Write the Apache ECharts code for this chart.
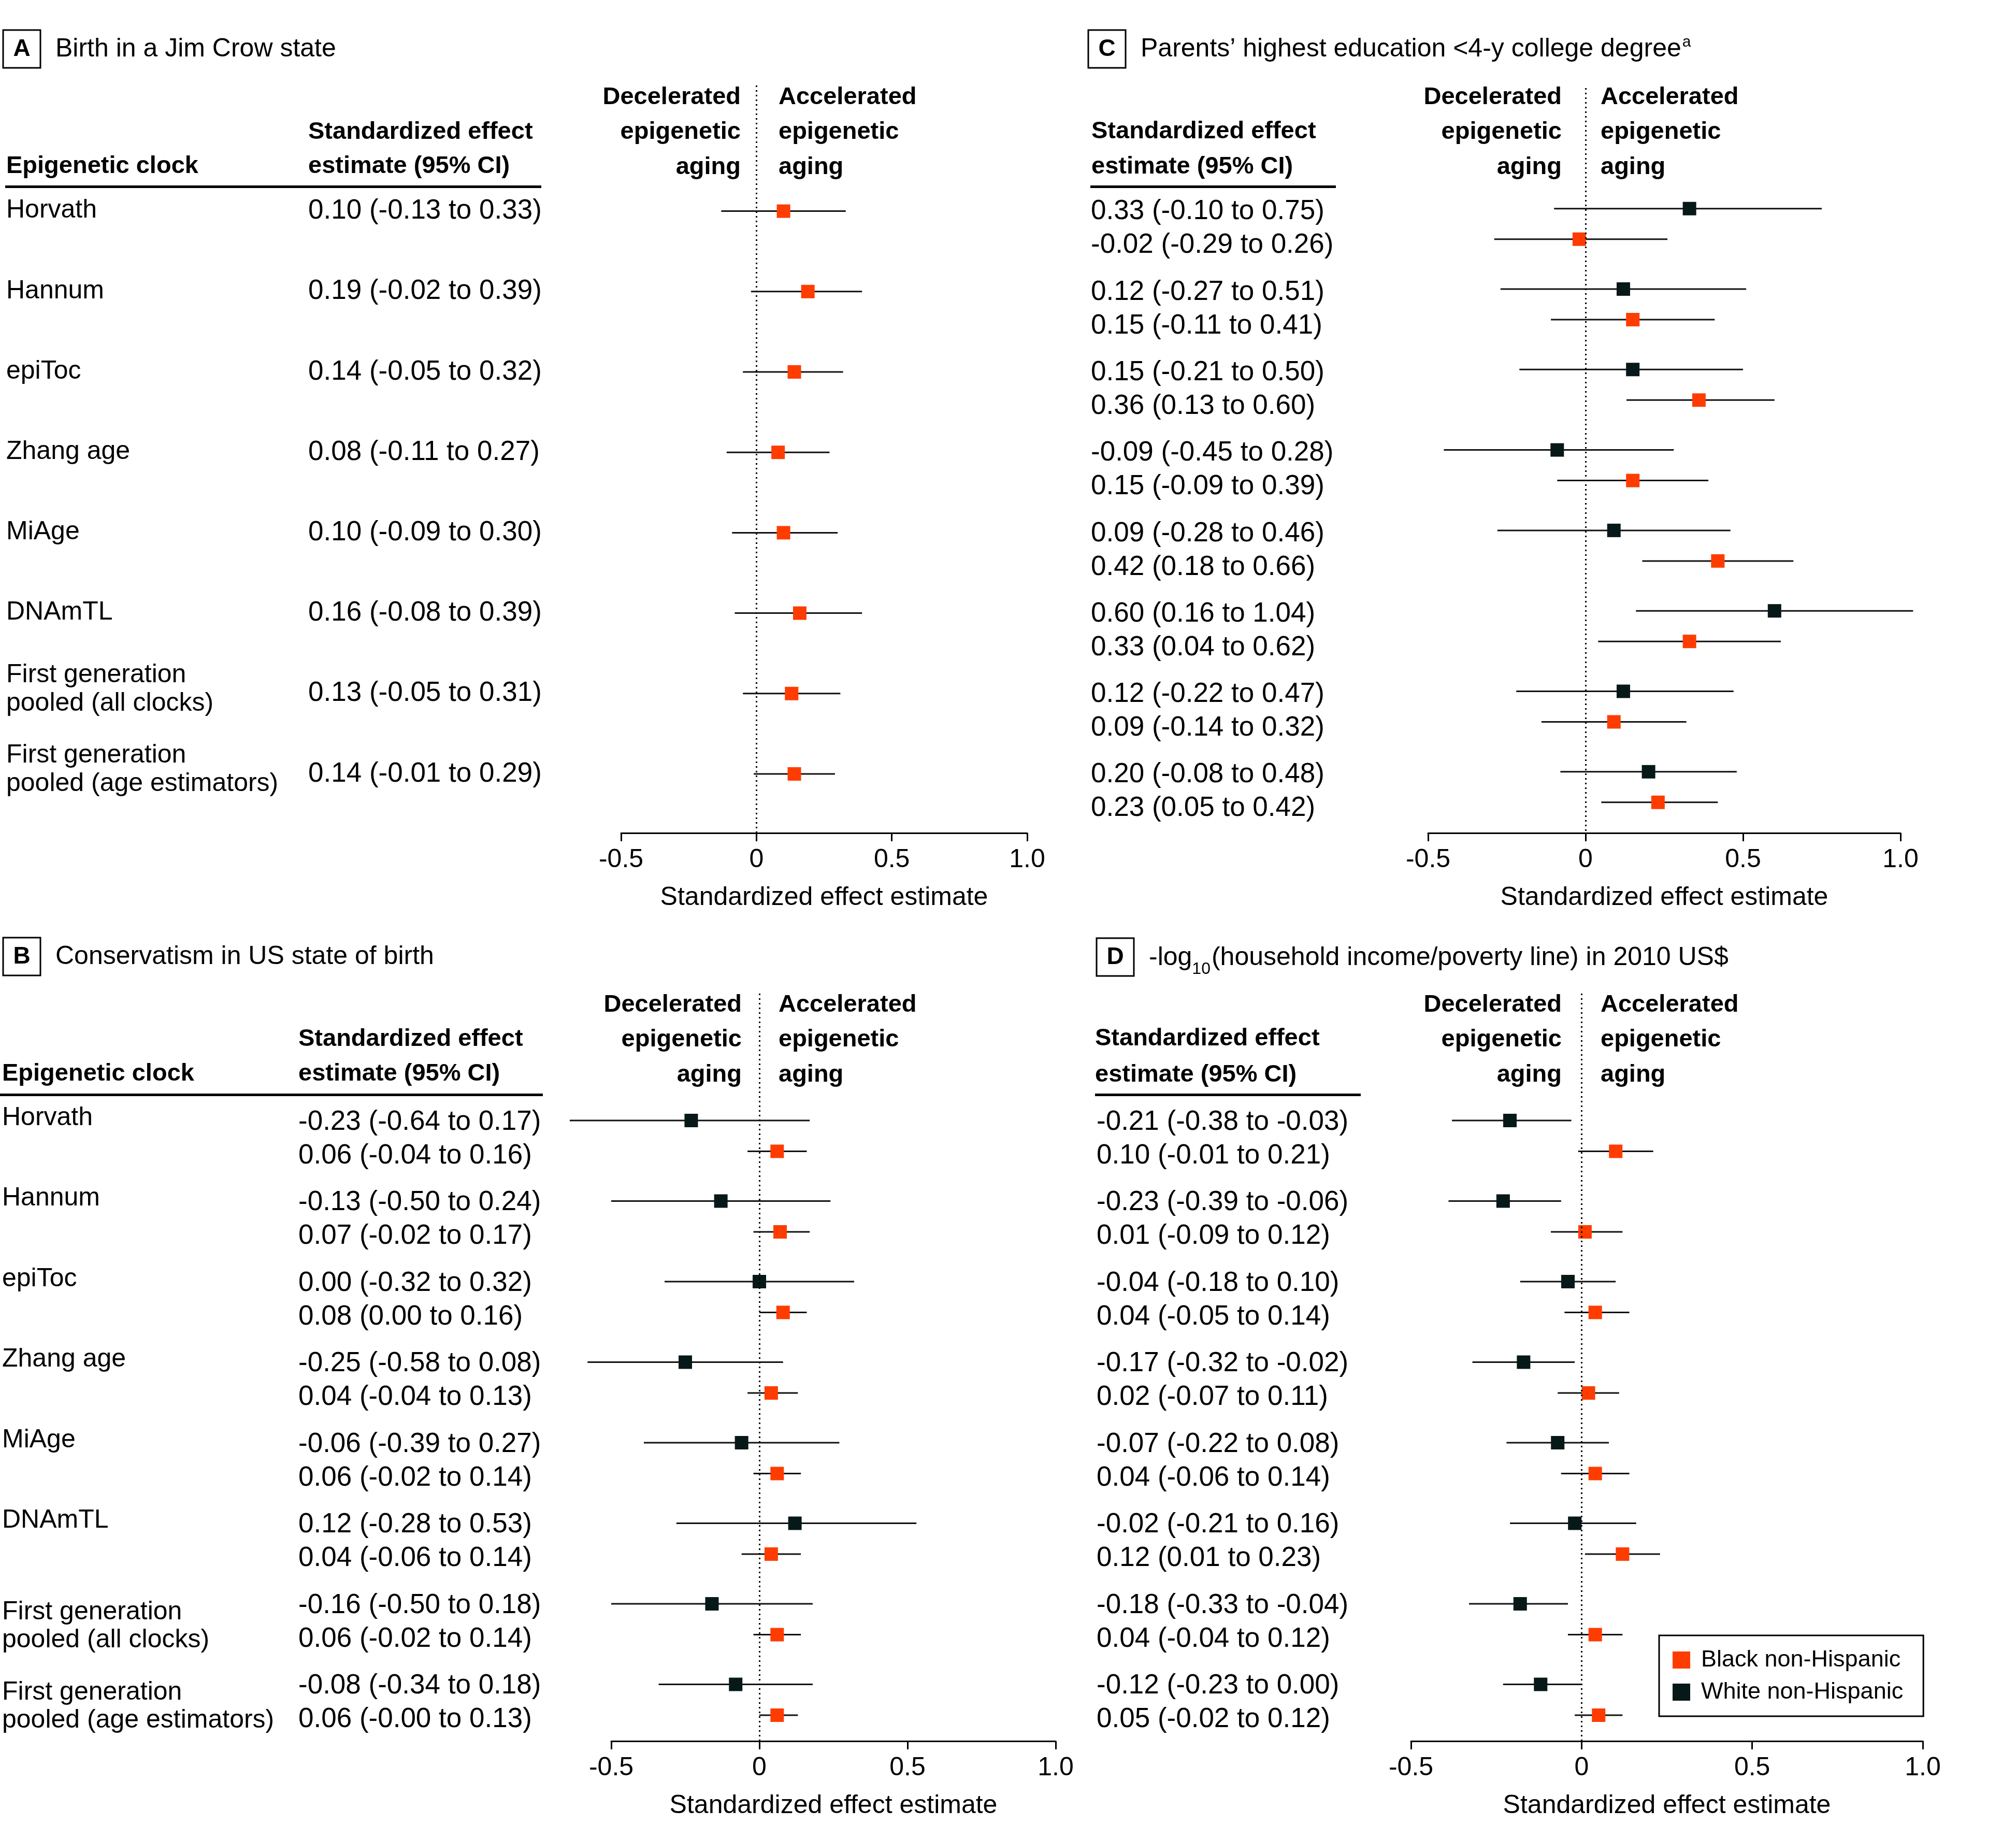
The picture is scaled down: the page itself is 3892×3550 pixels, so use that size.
<!DOCTYPE html>
<html><head><meta charset="utf-8">
<script src="https://cdn.jsdelivr.net/npm/echarts/dist/echarts.min.js"></script>
<style>html,body{margin:0;padding:0;background:#fff}#c{width:3892px;height:3550px}</style>
</head><body><div id="c"></div>
<script>
// ---------------- DATA ----------------
const clocks = ['Horvath','Hannum','epiToc','Zhang age','MiAge','DNAmTL','First generation\npooled (all clocks)','First generation\npooled (age estimators)'];
const tickValues = [-0.5, 0, 0.5, 1.0];
const tickLabels = ['-0.5', '0', '0.5', '1.0'];
const seriesNames = ['Black non-Hispanic', 'White non-Hispanic'];
const panelTitles = ['Birth in a Jim Crow state', 'Parents\u2019 highest education <4-y college degree', 'Conservatism in US state of birth', '(household income/poverty line) in 2010 US$'];

// Panel A: Birth in a Jim Crow state (Black non-Hispanic only)
const aBlackEst = [0.10, 0.19, 0.14, 0.08, 0.10, 0.16, 0.13, 0.14];
const aBlackLo  = [-0.13, -0.02, -0.05, -0.11, -0.09, -0.08, -0.05, -0.01];
const aBlackHi  = [0.33, 0.39, 0.32, 0.27, 0.30, 0.39, 0.31, 0.29];
// Panel C: Parents' education
const cWhiteEst = [0.33, 0.12, 0.15, -0.09, 0.09, 0.60, 0.12, 0.20];
const cWhiteLo  = [-0.10, -0.27, -0.21, -0.45, -0.28, 0.16, -0.22, -0.08];
const cWhiteHi  = [0.75, 0.51, 0.50, 0.28, 0.46, 1.04, 0.47, 0.48];
const cBlackEst = [-0.02, 0.15, 0.36, 0.15, 0.42, 0.33, 0.09, 0.23];
const cBlackLo  = [-0.29, -0.11, 0.13, -0.09, 0.18, 0.04, -0.14, 0.05];
const cBlackHi  = [0.26, 0.41, 0.60, 0.39, 0.66, 0.62, 0.32, 0.42];
// Panel B: Conservatism
const bWhiteEst = [-0.23, -0.13, 0.00, -0.25, -0.06, 0.12, -0.16, -0.08];
const bWhiteLo  = [-0.64, -0.50, -0.32, -0.58, -0.39, -0.28, -0.50, -0.34];
const bWhiteHi  = [0.17, 0.24, 0.32, 0.08, 0.27, 0.53, 0.18, 0.18];
const bBlackEst = [0.06, 0.07, 0.08, 0.04, 0.06, 0.04, 0.06, 0.06];
const bBlackLo  = [-0.04, -0.02, 0.00, -0.04, -0.02, -0.06, -0.02, -0.00];
const bBlackHi  = [0.16, 0.17, 0.16, 0.13, 0.14, 0.14, 0.14, 0.13];
// Panel D: income
const dWhiteEst = [-0.21, -0.23, -0.04, -0.17, -0.07, -0.02, -0.18, -0.12];
const dWhiteLo  = [-0.38, -0.39, -0.18, -0.32, -0.22, -0.21, -0.33, -0.23];
const dWhiteHi  = [-0.03, -0.06, 0.10, -0.02, 0.08, 0.16, -0.04, 0.00];
const dBlackEst = [0.10, 0.01, 0.04, 0.02, 0.04, 0.12, 0.04, 0.05];
const dBlackLo  = [-0.01, -0.09, -0.05, -0.07, -0.06, 0.01, -0.04, -0.02];
const dBlackHi  = [0.21, 0.12, 0.14, 0.11, 0.14, 0.23, 0.12, 0.12];

// ---------------- STYLE / LAYOUT ----------------
const FONT = '"Liberation Sans", Arial, Helvetica, sans-serif';
const FS = 50, FSV = 53, FSB = 47;
const ORANGE = '#FF3C00', DARK = '#071818', INK = '#000';

// grids: 0=A, 1=C, 2=B, 3=D
const G = [
  {left:1199, right:1983, top:165,  bottom:1608, y0:407.6, step:155.2, off:59},
  {left:2757, right:3669, top:170,  bottom:1608, y0:402.7, step:155.3, off:59},
  {left:1180, right:2038, top:1918, bottom:3361, y0:2163,  step:155.5, off:59.5},
  {left:2724, right:3712, top:1918, bottom:3361, y0:2163,  step:155.5, off:59.5}
];

function fmt(v){ if (Object.is(v, -0)) return '-0.00'; return v.toFixed(2); }
function ciText(e, l, h){ return fmt(e) + ' (' + fmt(l) + ' to ' + fmt(h) + ')'; }

const grids = G.map(g => ({left:g.left, top:g.top, width:g.right-g.left, height:g.bottom-g.top, containLabel:false, outerBoundsMode:'none'}));
const xAxes = G.map((g,i) => ({
  gridIndex:i, type:'value', min:-0.5, max:1, interval:0.5,
  axisLine:{show:true, onZero:false, lineStyle:{color:INK, width:3}},
  axisTick:{show:true, length:16, lineStyle:{color:INK, width:3}},
  axisLabel:{fontSize:FS, fontFamily:FONT, color:INK, margin:27,
    formatter: v => { const k = tickValues.findIndex(t => Math.abs(t - v) < 1e-9); return k >= 0 ? tickLabels[k] : ''; }},
  splitLine:{show:false},
  name:'Standardized effect estimate', nameLocation:'middle', nameGap:100,
  nameTextStyle:{fontSize:FS, fontFamily:FONT, color:INK}
}));
const yAxes = G.map((g,i) => ({
  gridIndex:i, type:'value', inverse:true, show:false,
  min:(g.top - g.y0)/g.step, max:(g.bottom - g.y0)/g.step
}));

function panelSeries(idx, est, lo, hi, yoff, color, name, withZero){
  const ci = {
    type:'custom', xAxisIndex:idx, yAxisIndex:idx, clip:false, silent:true, z:2,
    encode:{x:[0,1], y:2},
    data: est.map((e,i) => [lo[i], hi[i], i + yoff]),
    renderItem:(params, api) => {
      const y = api.value(2);
      const p1 = api.coord([api.value(0), y]);
      const p2 = api.coord([api.value(1), y]);
      return {type:'line', shape:{x1:p1[0], y1:p1[1], x2:p2[0], y2:p2[1]}, style:{stroke:'#111', lineWidth:3}};
    }
  };
  const pt = {
    type:'scatter', name:name, xAxisIndex:idx, yAxisIndex:idx, clip:false, silent:true, z:3,
    symbol:'rect', symbolSize:26, itemStyle:{color:color, opacity:1},
    data: est.map((e,i) => [e, i + yoff])
  };
  if (withZero) {
    pt.markLine = {silent:true, symbol:['none','none'], label:{show:false},
      lineStyle:{color:INK, width:3, type:[3,6], opacity:1}, data:[{xAxis:0}]};
  }
  return [ci, pt];
}

const series = [].concat(
  panelSeries(0, aBlackEst, aBlackLo, aBlackHi, 0, ORANGE, seriesNames[0], true),
  panelSeries(1, cWhiteEst, cWhiteLo, cWhiteHi, 0, DARK, seriesNames[1], true),
  panelSeries(1, cBlackEst, cBlackLo, cBlackHi, G[1].off/G[1].step, ORANGE, seriesNames[0], false),
  panelSeries(2, bWhiteEst, bWhiteLo, bWhiteHi, 0, DARK, seriesNames[1], true),
  panelSeries(2, bBlackEst, bBlackLo, bBlackHi, G[2].off/G[2].step, ORANGE, seriesNames[0], false),
  panelSeries(3, dWhiteEst, dWhiteLo, dWhiteHi, 0, DARK, seriesNames[1], true),
  panelSeries(3, dBlackEst, dBlackLo, dBlackHi, G[3].off/G[3].step, ORANGE, seriesNames[0], false)
);

const chart = echarts.init(document.getElementById('c'), null, {renderer:'canvas'});
chart.setOption({
  animation:false,
  backgroundColor:'#fff',
  grid:grids, xAxis:xAxes, yAxis:yAxes, series:series,
  legend:{
    data:seriesNames, orient:'vertical', left:3203, top:3157,
    padding:[25,39,24,26], itemGap:17, itemWidth:34, itemHeight:33, icon:'rect',
    borderColor:INK, borderWidth:3, selectedMode:false,
    itemStyle:{opacity:1},
    textStyle:{fontSize:45, lineHeight:33, fontFamily:FONT, color:INK, padding:[0,0,0,16]}
  }
});

// ---------------- TEXT ----------------
const ctx = document.createElement('canvas').getContext('2d');
function tw(t, size, weight){ ctx.font = (weight||'normal') + ' ' + size + 'px ' + FONT; return ctx.measureText(t).width; }
function T(text, x, y, o){
  o = o || {};
  return {type:'text', silent:true, z:10, style:{text:text, x:x, y:y, fill:INK,
    font:(o.weight||'normal') + ' ' + (o.size||FS) + 'px ' + FONT,
    textAlign:o.align||'left', textVerticalAlign:'middle'}};
}
function TB(text, x, y, align){ return T(text, x, y, {weight:'bold', size:FSB, align:align}); }
function TV(text, x, y){ return T(text, x, y, {size:FSV}); }
function R(x, y, w, h){ return {type:'rect', silent:true, shape:{x:x,y:y,width:w,height:h}, style:{fill:INK}}; }
function Box(x, y, letter){
  return [{type:'rect', silent:true, shape:{x:x,y:y,width:72,height:73}, style:{fill:'#fff', stroke:INK, lineWidth:3}},
          T(letter, x+36, y+37, {weight:'bold', size:46, align:'center'})];
}
function rowY(idx, k){ return chart.convertToPixel({xAxisIndex:idx, yAxisIndex:idx}, [0, k])[1]; }

const g = [];
// Panel A
g.push(...Box(6, 58, 'A'), T(panelTitles[0], 107, 95));
g.push(TB('Epigenetic clock', 12, 321), TB('Standardized effect', 595, 255), TB('estimate (95% CI)', 595, 321));
g.push(R(10, 358, 1035, 5));
[['Decelerated',188],['epigenetic',255],['aging',323]].forEach(d => g.push(TB(d[0], 1430, d[1], 'right')));
[['Accelerated',188],['epigenetic',255],['aging',323]].forEach(d => g.push(TB(d[0], 1503, d[1])));
clocks.forEach((c, k) => {
  const y = rowY(0, k);
  const parts = c.split('\n');
  if (parts.length === 1) g.push(T(parts[0], 12, y - 1));
  else { g.push(T(parts[0], 12, y - 36)); g.push(T(parts[1], 12, y + 19)); }
  g.push(TV(ciText(aBlackEst[k], aBlackLo[k], aBlackHi[k]), 595, y));
});

// Panel C
g.push(...Box(2101, 58, 'C'));
g.push(T(panelTitles[1], 2202, 95));
g.push(T('a', 2202 + tw(panelTitles[1], FS) + 2, 82, {size:30}));
g.push(TB('Standardized effect', 2107, 254), TB('estimate (95% CI)', 2107, 322));
g.push(R(2105, 358, 474, 5));
[['Decelerated',188],['epigenetic',255],['aging',323]].forEach(d => g.push(TB(d[0], 3015, d[1], 'right')));
[['Accelerated',188],['epigenetic',255],['aging',323]].forEach(d => g.push(TB(d[0], 3090, d[1])));
clocks.forEach((c, k) => {
  const y = rowY(1, k);
  g.push(TV(ciText(cWhiteEst[k], cWhiteLo[k], cWhiteHi[k]), 2106, y + 6));
  g.push(TV(ciText(cBlackEst[k], cBlackLo[k], cBlackHi[k]), 2106, y + 71));
});

// Panel B
g.push(...Box(6, 1810, 'B'), T(panelTitles[2], 107, 1847));
g.push(TB('Epigenetic clock', 4, 2073), TB('Standardized effect', 576, 2006), TB('estimate (95% CI)', 576, 2073));
g.push(R(0, 2111, 1048, 5));
[['Decelerated',1940],['epigenetic',2007],['aging',2075]].forEach(d => g.push(TB(d[0], 1432, d[1], 'right')));
[['Accelerated',1940],['epigenetic',2007],['aging',2075]].forEach(d => g.push(TB(d[0], 1503, d[1])));
clocks.forEach((c, k) => {
  const y = rowY(2, k);
  const parts = c.split('\n');
  if (parts.length === 1) g.push(T(parts[0], 4, y - 5));
  else { g.push(T(parts[0], 4, y + 16)); g.push(T(parts[1], 4, y + 70)); }
  g.push(TV(ciText(bWhiteEst[k], bWhiteLo[k], bWhiteHi[k]), 576, y + 3));
  g.push(TV(ciText(bBlackEst[k], bBlackLo[k], bBlackHi[k]), 576, y + 68));
});

// Panel D
g.push(...Box(2117, 1811, 'D'));
{
  let x = 2218;
  g.push(T('-log', x, 1849)); x += tw('-log', FS);
  g.push(T('10', x, 1871, {size:32})); x += tw('10', 32) + 2;
  g.push(T(panelTitles[3], x, 1849));
}
g.push(TB('Standardized effect', 2114, 2005), TB('estimate (95% CI)', 2114, 2075));
g.push(R(2114, 2111, 513, 5));
[['Decelerated',1940],['epigenetic',2007],['aging',2075]].forEach(d => g.push(TB(d[0], 3015, d[1], 'right')));
[['Accelerated',1940],['epigenetic',2007],['aging',2075]].forEach(d => g.push(TB(d[0], 3090, d[1])));
clocks.forEach((c, k) => {
  const y = rowY(3, k);
  g.push(TV(ciText(dWhiteEst[k], dWhiteLo[k], dWhiteHi[k]), 2117, y + 3));
  g.push(TV(ciText(dBlackEst[k], dBlackLo[k], dBlackHi[k]), 2117, y + 68));
});

chart.setOption({graphic:{elements:g}});
</script>
</body></html>
